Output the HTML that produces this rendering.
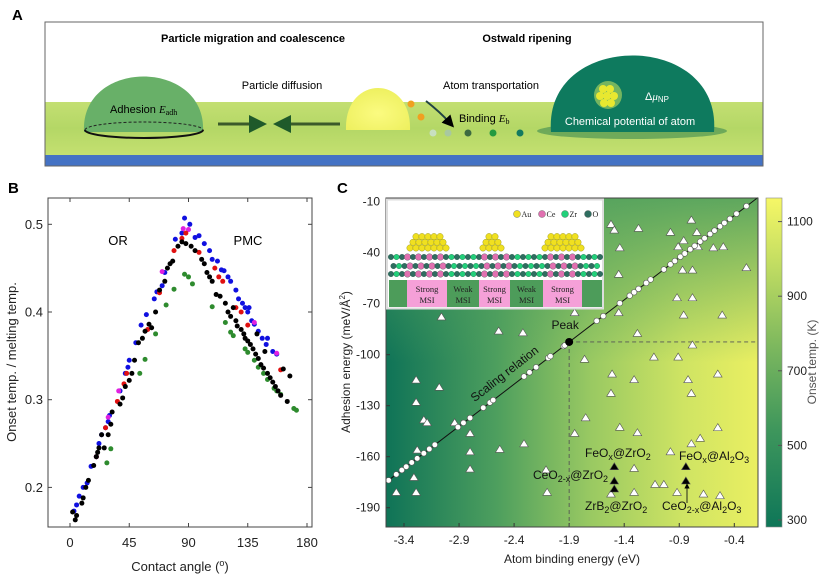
<!DOCTYPE html>
<html><head><meta charset="utf-8">
<style>
html,body{margin:0;padding:0;background:#fff;}
svg{display:block;font-family:"Liberation Sans",Arial,sans-serif;}
.serif{font-family:"Liberation Serif",serif;}
</style></head>
<body>
<svg id="fig" width="825" height="580" viewBox="0 0 825 580" xmlns="http://www.w3.org/2000/svg">
<defs>
  <linearGradient id="ground" x1="0" y1="0" x2="0" y2="1">
    <stop offset="0" stop-color="#c3df72"/><stop offset="0.5" stop-color="#b4d766"/><stop offset="1" stop-color="#c4e070"/>
  </linearGradient>
  <radialGradient id="yglow" cx="0.5" cy="0.6" r="0.6">
    <stop offset="0" stop-color="#fbfb80"/><stop offset="1" stop-color="#eef060"/>
  </radialGradient>
  <linearGradient id="bgH" x1="0" y1="0" x2="1" y2="0">
    <stop offset="0" stop-color="#0f7357"/><stop offset="0.3" stop-color="#4e9f5e"/>
    <stop offset="0.55" stop-color="#99c962"/><stop offset="0.8" stop-color="#cfe463"/><stop offset="1" stop-color="#eaef62"/>
  </linearGradient>
  <linearGradient id="bgV" x1="0" y1="0" x2="0" y2="1">
    <stop offset="0" stop-color="#4f9f5e" stop-opacity="0.9"/><stop offset="0.5" stop-color="#4f9f5e" stop-opacity="0"/>
  </linearGradient>
  <linearGradient id="cbar" x1="0" y1="1" x2="0" y2="0">
    <stop offset="0" stop-color="#0e7658"/><stop offset="0.3" stop-color="#3f975c"/>
    <stop offset="0.55" stop-color="#7db85e"/><stop offset="0.8" stop-color="#c2dd62"/><stop offset="1" stop-color="#f6f766"/>
  </linearGradient>
  <marker id="ah" markerWidth="6" markerHeight="6" refX="3" refY="3" orient="auto"><path d="M0,0 L6,3 L0,6 Z" fill="#000"/></marker>
  <marker id="ah2" markerWidth="6" markerHeight="6" refX="3" refY="3" orient="auto"><path d="M0,0 L6,3 L0,6 Z" fill="#1f5a2a"/></marker>
</defs>

<!-- Panel A -->
<g>
  <text x="12" y="20" font-size="15" font-weight="bold">A</text>
  <rect x="45" y="22" width="718" height="144" fill="#fff" stroke="#666" stroke-width="1"/>
  <rect x="45.5" y="102" width="717" height="53" fill="url(#ground)"/>
  <rect x="45.5" y="155" width="717" height="10.5" fill="#4472c4"/>
  <text x="253" y="42" font-size="11" font-weight="bold" text-anchor="middle">Particle migration and coalescence</text>
  <text x="527" y="42" font-size="11" font-weight="bold" text-anchor="middle">Ostwald ripening</text>
  <path d="M84,132 C80,58 207,58 203,132 Z" fill="#68b068"/>
  <path d="M85,130 A59,8 0 0 1 203,130" fill="none" stroke="#222" stroke-dasharray="3,2"/>
  <path d="M85,130 A59,8 0 0 0 203,130" fill="none" stroke="#111" stroke-width="2"/>
  <text x="110" y="113" font-size="11">Adhesion <tspan class="serif" font-style="italic">E</tspan><tspan class="serif" font-size="8" dy="2">adh</tspan></text>
  <text x="282" y="89" font-size="11" text-anchor="middle">Particle diffusion</text>
  <line x1="218" y1="124" x2="258" y2="124" stroke="#3b5a2a" stroke-width="3" marker-end="url(#ah2)"/>
  <line x1="340" y1="124" x2="282" y2="124" stroke="#3b5a2a" stroke-width="3" marker-end="url(#ah2)"/>
  <path d="M346,130 C344,74 412,74 410,130 Z" fill="url(#yglow)"/>
  <circle cx="411" cy="104" r="3.5" fill="#f0a020"/>
  <circle cx="421" cy="117" r="3.5" fill="#f0a020"/>
  <path d="M426,101 Q440,112 450,123" fill="none" stroke="#244" stroke-width="2" marker-end="url(#ah)"/>
  <text x="491" y="89" font-size="11" text-anchor="middle">Atom transportation</text>
  <text x="459" y="122" font-size="11">Binding <tspan class="serif" font-style="italic">E</tspan><tspan class="serif" font-size="8" dy="2">b</tspan></text>
  <circle cx="433" cy="133" r="3.5" fill="#c8e0c0"/>
  <circle cx="448" cy="133" r="3.5" fill="#a8c8a0"/>
  <circle cx="468" cy="133" r="3.5" fill="#3d6a40"/>
  <circle cx="493" cy="133" r="3.5" fill="#229a40"/>
  <circle cx="520" cy="133" r="3.5" fill="#127a60"/>
  <ellipse cx="632" cy="131" rx="95" ry="8" fill="#3e8a50" opacity="0.6"/>
  <path d="M551,132 C543,30 722,30 714,132 Z" fill="#0e7a5e"/>
  <g>
    <circle cx="608" cy="95" r="14" fill="#dcef60" opacity="0.5"/>
    <circle cx="603" cy="89" r="4" fill="#e8e830"/><circle cx="610" cy="89" r="4" fill="#e8e830"/>
    <circle cx="600" cy="96" r="4" fill="#e8e830"/><circle cx="607" cy="96" r="4" fill="#e8e830"/><circle cx="614" cy="96" r="4" fill="#e8e830"/>
    <circle cx="604" cy="103" r="4" fill="#e8e830"/><circle cx="611" cy="103" r="4" fill="#e8e830"/>
  </g>
  <text x="645" y="100" font-size="11" fill="#fff">Δ<tspan class="serif" font-style="italic">μ</tspan><tspan font-size="8" dy="2">NP</tspan></text>
  <text x="630" y="125" font-size="11" fill="#fff" text-anchor="middle">Chemical potential of atom</text>
</g>

<!-- Panel B -->
<g id="pb">
  <text x="8" y="193" font-size="15" font-weight="bold">B</text>
  <rect x="48" y="198" width="264" height="329" fill="none" stroke="#444"/>
  <text x="118" y="245" font-size="13" text-anchor="middle">OR</text>
  <text x="248" y="245" font-size="13" text-anchor="middle">PMC</text>
  <text x="180" y="571" font-size="13" fill="#222" text-anchor="middle">Contact angle (<tspan font-size="9" dy="-5">o</tspan><tspan dy="5">)</tspan></text>
  <text transform="translate(16,362) rotate(-90)" font-size="13" fill="#222" text-anchor="middle">Onset temp. / melting temp.</text>
</g>

<!-- Panel C -->
<g id="pc">
  <text x="337" y="193" font-size="15" font-weight="bold">C</text>
  <rect x="386" y="198" width="372" height="329" fill="url(#bgH)"/>
  <rect x="386" y="198" width="372" height="329" fill="url(#bgV)"/>
  <rect x="766" y="198" width="16" height="329" fill="url(#cbar)" stroke="#888" stroke-width="0.6"/>
  <text transform="translate(816,362) rotate(-90)" font-size="12" fill="#555" text-anchor="middle">Onset temp. (K)</text>
  <text x="572" y="563" font-size="12" fill="#222" text-anchor="middle">Atom binding energy (eV)</text>
  <text transform="translate(350,362) rotate(-90)" font-size="12" fill="#222" text-anchor="middle">Adhesion energy (meV/Å<tspan font-size="8" dy="-5">2</tspan><tspan dy="5">)</tspan></text>
</g>
</svg>

<script>
// ---------- Panel B data ----------
const bBlueX=[3,5,7,10,13,16,20,22,24,27,29,30,38,42,44,45,50,54,58,64,66,70,72,80,85,87,91,95,98,102,106,108,112,115,117,120,122,126,128,131,133,135,136,138,140,143,146,149,150,154,157];
const bBlueY=[0.173,0.18,0.19,0.2,0.205,0.224,0.235,0.25,0.26,0.268,0.275,0.282,0.31,0.33,0.337,0.345,0.365,0.385,0.397,0.415,0.423,0.43,0.445,0.483,0.49,0.507,0.5,0.485,0.487,0.478,0.47,0.46,0.458,0.448,0.447,0.44,0.435,0.425,0.415,0.41,0.405,0.4,0.405,0.39,0.386,0.378,0.37,0.363,0.37,0.355,0.352];
const bRedX=[20,27,36,41,43,59,68,79,85,88,98,110,113,116,126,130,135,160];
const bRedY=[0.235,0.268,0.298,0.318,0.33,0.38,0.422,0.47,0.484,0.49,0.468,0.45,0.44,0.435,0.405,0.4,0.385,0.334];
const bMagX=[29,37,70,86,90,140,157];
const bMagY=[0.28,0.31,0.446,0.495,0.494,0.388,0.353];
const bGreenX=[28,31,53,57,65,73,79,87,90,93,108,118,122,124,133,135,140,143,147,150,155,157,160,170,172];
const bGreenY=[0.228,0.244,0.33,0.346,0.375,0.408,0.426,0.443,0.44,0.432,0.406,0.388,0.377,0.373,0.358,0.354,0.345,0.337,0.33,0.323,0.313,0.31,0.306,0.29,0.288];
const bBlackX=[2,4,5,9,10,12,14,18,20,21,22,24,26,29,31,32,38,40,42,45,47,49,52,55,57,60,62,65,68,72,74,76,78,82,85,88,92,95,100,102,104,106,108,111,114,118,120,122,124,126,127,130,132,133,135,137,139,141,142,143,145,147,148,150,152,154,156,158,160,162,165,167];
const bBlackY=[0.172,0.163,0.168,0.182,0.188,0.2,0.208,0.225,0.235,0.24,0.245,0.26,0.245,0.26,0.272,0.286,0.295,0.302,0.315,0.322,0.33,0.345,0.365,0.37,0.378,0.386,0.382,0.4,0.425,0.435,0.45,0.455,0.458,0.475,0.48,0.478,0.475,0.47,0.46,0.455,0.445,0.44,0.435,0.42,0.418,0.41,0.4,0.395,0.405,0.39,0.384,0.38,0.375,0.37,0.367,0.363,0.358,0.352,0.375,0.347,0.34,0.336,0.355,0.33,0.325,0.32,0.315,0.31,0.305,0.335,0.298,0.327];
const bXTicks=[0,45,90,135,180];
const bYTicks=[0.2,0.3,0.4,0.5];

// ---------- Panel C data ----------
const cXTicks=[-3.4,-2.9,-2.4,-1.9,-1.4,-0.9,-0.4];
const cYTicks=[-10,-40,-70,-100,-130,-160,-190];
const cbTicks=[300,500,700,900,1100];
const scaleX=[-3.54,-3.47,-3.42,-3.38,-3.33,-3.28,-3.22,-3.17,-3.12,-2.91,-2.86,-2.80,-2.68,-2.62,-2.59,-2.31,-2.26,-2.20,-2.09,-2.07,-1.95,-1.94,-1.65,-1.59,-1.44,-1.35,-1.31,-1.27,-1.20,-1.16,-1.04,-0.98,-0.94,-0.89,-0.85,-0.80,-0.76,-0.71,-0.67,-0.62,-0.58,-0.53,-0.49,-0.44,-0.38,-0.29];
const scaleY=[-173.9,-170.4,-167.9,-165.9,-163.4,-161.0,-158.0,-155.5,-153.0,-142.6,-140.1,-137.2,-131.2,-128.2,-126.7,-112.8,-110.4,-107.4,-101.9,-100.9,-95.0,-94.5,-80.1,-77.3,-69.7,-65.3,-63.3,-61.3,-57.8,-55.8,-49.9,-46.9,-44.9,-42.4,-40.5,-38.0,-36.0,-33.5,-31.5,-29.0,-27.0,-24.5,-22.5,-20.1,-17.1,-12.6];
const lineX=[-3.563,-0.187];
const lineY=[-175,-7.6];
const peakX=-1.90, peakY=-92.5;
const triX=[-1.52,-1.49,-1.27,-0.98,-0.79,-0.74,-0.86,-1.44,-0.91,-0.73,-0.59,-0.50,-0.29,-1.45,-0.87,-0.78,-0.92,-0.78,-1.85,-1.45,-0.51,-0.86,-3.06,-2.54,-2.32,-1.28,-0.78,-1.76,-1.13,-0.91,-1.51,-1.31,-0.82,-0.55,-3.29,-3.08,-1.52,-0.79,-3.29,-1.75,-3.22,-3.19,-2.94,-1.44,-0.55,-2.80,-1.85,-1.28,-0.71,-0.79,-2.31,-3.28,-2.53,-2.80,-0.98,-1.31,-2.80,-2.11,-3.31,-1.12,-1.04,-3.47,-3.29,-2.10,-1.52,-1.31,-0.92,-0.68,-0.53];
const triY=[-23.3,-26.7,-25.7,-28.0,-20.8,-28.0,-32.9,-37.1,-36.5,-36.5,-37.1,-36.5,-48.8,-52.7,-50.2,-50.2,-66.5,-66.5,-75.3,-75.3,-76.7,-76.7,-77.8,-86.1,-87.1,-87.5,-94.3,-102.7,-101.4,-101.4,-111.4,-114.7,-114.7,-111.4,-114.9,-119.2,-122.7,-122.7,-128.0,-137.1,-138.4,-140.0,-140.0,-142.7,-142.9,-146.3,-146.3,-145.9,-149.2,-152.4,-152.4,-156.1,-155.7,-157.1,-157.1,-166.9,-167.3,-167.8,-172.2,-176.3,-176.3,-181.0,-181.0,-181.0,-182.0,-181.0,-181.0,-182.0,-182.9];
const expX=[-1.49,-1.49,-1.49,-0.84,-0.84];
const expY=[-165.9,-174.3,-179.0,-165.9,-174.3];

const NS="http://www.w3.org/2000/svg";
function mk(tag,attrs,parent){const e=document.createElementNS(NS,tag);for(const k in attrs)e.setAttribute(k,attrs[k]);parent.appendChild(e);return e;}

// ---- Panel B drawing ----
const pb=document.getElementById('pb');
const bx=v=>70+v*(237/180);
const by=v=>224.3-(v-0.5)*877;
bXTicks.forEach(t=>{
  const l=mk('line',{x1:bx(t),x2:bx(t),y1:527,y2:523,stroke:'#444'},pb);
  
  
  const l2=mk('line',{x1:bx(t),x2:bx(t),y1:198,y2:202,stroke:'#444'},pb);
  
  
  const tx=mk('text',{x:bx(t),y:547,'font-size':13,'text-anchor':'middle',fill:'#222'},pb);tx.textContent=t;
  
  
});
bYTicks.forEach(t=>{
  const l=mk('line',{x1:48,x2:52,y1:by(t),y2:by(t),stroke:'#444'},pb);
  
  
  const l2=mk('line',{x1:312,x2:308,y1:by(t),y2:by(t),stroke:'#444'},pb);
  
  
  const tx=mk('text',{x:43,y:by(t)+4.5,'font-size':13,'text-anchor':'end',fill:'#222'},pb);tx.textContent=t.toFixed(1);
  
  
});
function dots(xs,ys,color,name){
  xs.forEach((x,i)=>{
    const c=mk('circle',{cx:bx(x),cy:by(ys[i]),r:2.5,fill:color},pb);
    
    
  });
}
dots(bGreenX,bGreenY,'#2e8b2e','point-green');
dots(bBlueX,bBlueY,'#1010e0','point-blue');
dots(bMagX,bMagY,'#e020e0','point-magenta');
dots(bRedX,bRedY,'#e01010','point-red');
dots(bBlackX,bBlackY,'#000','point-black');

// ---- Panel C drawing ----
const pc=document.getElementById('pc');
const cx=v=>404+(v+3.4)*110.1;
const cy=v=>201.7-(v+10)*1.7;
const cb=v=>520-(v-300)*0.373;
cXTicks.forEach(t=>{
  const l=mk('line',{x1:cx(t),x2:cx(t),y1:527,y2:523,stroke:'#333'},pc);
  
  
  const tx=mk('text',{x:cx(t),y:544,'font-size':12,'text-anchor':'middle',fill:'#222'},pc);tx.textContent=t.toFixed(1);
  
  
});
cYTicks.forEach(t=>{
  const l=mk('line',{x1:386,x2:390,y1:cy(t),y2:cy(t),stroke:'#333'},pc);
  
  
  const tx=mk('text',{x:380,y:cy(t)+4,'font-size':12,'text-anchor':'end',fill:'#222'},pc);tx.textContent=t;
  
  
});
cbTicks.forEach(t=>{
  const l=mk('line',{x1:778,x2:782,y1:cb(t),y2:cb(t),stroke:'#555'},pc);
  
  
  const tx=mk('text',{x:787,y:cb(t)+4,'font-size':12,fill:'#222'},pc);tx.textContent=t;
  
  
});
// dashed peak guides
let d1=mk('line',{x1:cx(peakX),x2:cx(peakX),y1:cy(peakY),y2:527,stroke:'#555','stroke-dasharray':'4,3','stroke-width':0.9},pc);


let d2=mk('line',{x1:cx(peakX),x2:758,y1:cy(peakY),y2:cy(peakY),stroke:'#555','stroke-dasharray':'4,3','stroke-width':0.9},pc);


// triangles
function tri(x,y,fill,name){
  const X=cx(x),Y=cy(y);
  const p=mk('polygon',{points:`${X},${Y-4} ${X-4.3},${Y+3} ${X+4.3},${Y+3}`,fill:fill,stroke:'#555','stroke-width':0.6},pc);
  
  
}
triX.forEach((x,i)=>tri(x,triY[i],'#fff','catalyst-triangle'));
expX.forEach((x,i)=>tri(x,expY[i],'#000','experiment-triangle'));
// scaling line
let sl=mk('line',{x1:cx(lineX[0]),y1:cy(lineY[0]),x2:cx(lineX[1]),y2:cy(lineY[1]),stroke:'#111','stroke-width':1},pc);


scaleX.forEach((x,i)=>{
  const c=mk('circle',{cx:cx(x),cy:cy(scaleY[i]),r:2.8,fill:'#fff',stroke:'#555','stroke-width':0.6},pc);
  
  
});
let pk=mk('circle',{cx:cx(peakX),cy:cy(peakY),r:4,fill:'#000'},pc);


let pt=mk('text',{x:cx(peakX)-4,y:cy(peakY)-13,'font-size':12,'text-anchor':'middle',fill:'#111'},pc);pt.textContent='Peak';


let st=mk('text',{transform:'translate(507,377) rotate(-38)','font-size':12,'text-anchor':'middle',fill:'#111'},pc);st.textContent='Scaling relation';


// experimental labels
function lab(x,y,html,name,anchor){
  const t=mk('text',{x:x,y:y,'font-size':12,fill:'#111','text-anchor':anchor||'start'},pc);t.innerHTML=html;
  
  
}
lab(585,457,'FeO<tspan font-size="9" dy="3">x</tspan><tspan dy="-3">@ZrO</tspan><tspan font-size="9" dy="3">2</tspan>','label-feox-zro2');
lab(533,479,'CeO<tspan font-size="9" dy="3">2-x</tspan><tspan dy="-3">@ZrO</tspan><tspan font-size="9" dy="3">2</tspan>','label-ceo2-zro2');
lab(585,510,'ZrB<tspan font-size="9" dy="3">2</tspan><tspan dy="-3">@ZrO</tspan><tspan font-size="9" dy="3">2</tspan>','label-zrb2-zro2');
lab(679,460,'FeO<tspan font-size="9" dy="3">x</tspan><tspan dy="-3">@Al</tspan><tspan font-size="9" dy="3">2</tspan><tspan dy="-3">O</tspan><tspan font-size="9" dy="3">3</tspan>','label-feox-al2o3');
lab(662,510,'CeO<tspan font-size="9" dy="3">2-x</tspan><tspan dy="-3">@Al</tspan><tspan font-size="9" dy="3">2</tspan><tspan dy="-3">O</tspan><tspan font-size="9" dy="3">3</tspan>','label-ceo2-al2o3');
let ar=mk('line',{x1:687,y1:503,x2:687,y2:486,stroke:'#111','stroke-width':0.9,'marker-end':'url(#ah)'},pc);


// axes frame
let fr=mk('rect',{x:386,y:198,width:372,height:329,fill:'none',stroke:'#444'},pc);



// ---- Inset ----
const ins=mk('g',{},pc);


mk('rect',{x:387,y:199.5,width:216,height:109,fill:'#fff',stroke:'#ddd','stroke-width':2},ins);
const strips=[[389,407,'#4d9c5a',''],[407,447,'#f5a0d8','Strong|MSI'],[447,479,'#4d9c5a','Weak|MSI'],[479,510,'#f5a0d8','Strong|MSI'],[510,543,'#4d9c5a','Weak|MSI'],[543,582,'#f5a0d8','Strong|MSI'],[582,602,'#4d9c5a','']];
strips.forEach(s=>{
  const r=mk('rect',{x:s[0],y:280,width:s[1]-s[0],height:27,fill:s[2]},ins);
  
  
  if(s[3]){const [a,b]=s[3].split('|');const m=(s[0]+s[1])/2;
    const t1=mk('text',{x:m,y:292,'font-size':8.5,'text-anchor':'middle',fill:'#222','font-family':'Liberation Serif, serif'},ins);t1.textContent=a;
    
    
    const t2=mk('text',{x:m,y:303,'font-size':8.5,'text-anchor':'middle',fill:'#222','font-family':'Liberation Serif, serif'},ins);t2.textContent=b;
    
    }
});
[257,266,274].forEach((yy,ri)=>{
  for(let x=391+(ri%2)*2.5;x<601;x+=5.5){
    const pink=(x>407&&x<447)||(x>479&&x<510)||(x>543&&x<582);
    const k=Math.round((x-391)/5.5)%2;
    const col=pink?(k?'#e070b0':'#2f6d60'):(k?'#22d07a':'#2f6d60');
    const c=mk('circle',{cx:x,cy:yy,r:pink&&k?3.3:2.8,fill:col,stroke:'#1a4a3a','stroke-width':0.3},ins);
    
    
  }
});
function pyr(x0,rows){
  rows.forEach((n,ri)=>{
    const yy=248-ri*5.7; const w=n*6; const start=x0-w/2+3;
    for(let i=0;i<n;i++){
      const c=mk('circle',{cx:start+i*6,cy:yy,r:3.2,fill:'#f0e020',stroke:'#8a8a10','stroke-width':0.4},ins);
      
      
    }
  });
}
pyr(428,[7,6,5]); pyr(492,[4,3,2]); pyr(563,[7,6,5]);
const leg=[[517,'#f0e020','Au'],[542,'#e070b0','Ce'],[565,'#22d07a','Zr'],[588,'#2f6d60','O']];
leg.forEach(l=>{
  const c=mk('circle',{cx:l[0],cy:214,r:3.5,fill:l[1],stroke:'#555','stroke-width':0.4},ins);
  
  
  const t=mk('text',{x:l[0]+4.5,y:217,'font-size':8,fill:'#222','font-family':'Liberation Serif, serif'},ins);t.textContent=l[2];
  
  
});
</script>
</body></html>
